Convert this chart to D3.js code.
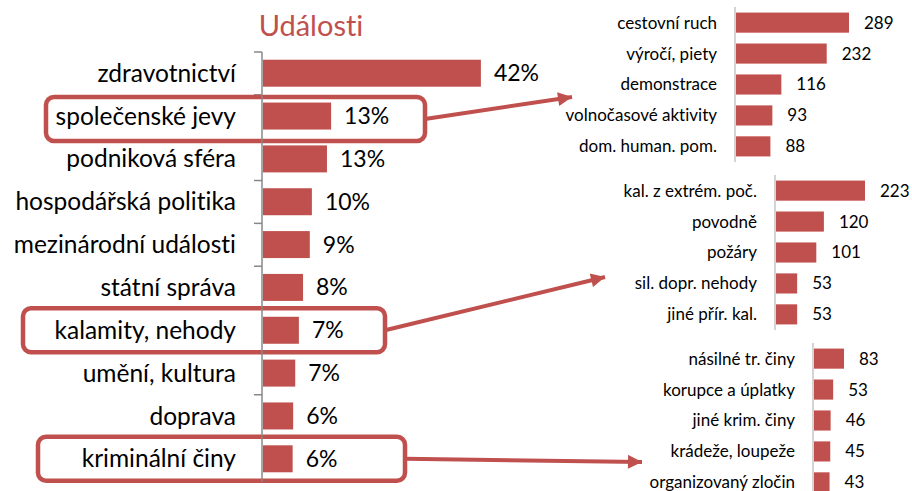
<!DOCTYPE html>
<html lang="cs">
<head>
<meta charset="UTF-8">
<title>Události</title>
<script src="https://cdn.jsdelivr.net/npm/d3@7"></script>
<style>
  body { margin: 0; background: #fff; }
  svg text { font-family: Lato, "Open Sans", sans-serif; fill: #000; font-variant-ligatures: none; }
</style>
</head>
<body>
<script>
// main chart data (share of events, %)
var mainCategories = ["zdravotnictví", "společenské jevy", "podniková sféra", "hospodářská politika",
  "mezinárodní události", "státní správa", "kalamity, nehody", "umění, kultura", "doprava", "kriminální činy"];
var mainValues = [41.9, 13.1, 12.3, 9.4, 9.0, 7.7, 6.9, 6.2, 5.8, 5.7];
var mainLabels = ["42%", "13%", "13%", "10%", "9%", "8%", "7%", "7%", "6%", "6%"];

// breakdowns (counts)
var socialCategories = ["cestovní ruch", "výročí, piety", "demonstrace", "volnočasové aktivity", "dom. human. pom."];
var socialValues = [289, 232, 116, 93, 88];

var calamityCategories = ["kal. z extrém. poč.", "povodně", "požáry", "sil. dopr. nehody", "jiné přír. kal."];
var calamityValues = [223, 120, 101, 53, 53];

var crimeCategories = ["násilné tr. činy", "korupce a úplatky", "jiné krim. činy", "krádeže, loupeže", "organizovaný zločin"];
var crimeValues = [83, 53, 46, 45, 43];

var red = "#c0504d";
var W = 912, H = 491;

var svg = d3.select("body").append("svg")
  .attr("width", W).attr("height", H);

// ---- main chart ----
var axisX = 262;
var y = d3.scaleBand().domain(mainCategories).range([52, 480]).paddingInner(0.37).paddingOuter(0.18);
var x = d3.scaleLinear().domain([0, 45]).range([axisX, axisX + 234]);

svg.append("text")
  .attr("x", 311).attr("y", 36)
  .attr("text-anchor", "middle")
  .style("font-size", "29px")
  .style("fill", red)
  .text("Události");

// category tick marks
var step = y.step();
svg.append("g").selectAll("line")
  .data(d3.range(mainCategories.length + 1))
  .join("line")
  .attr("x1", axisX - 8).attr("x2", axisX)
  .attr("y1", function(i) { return 52 + i * step; })
  .attr("y2", function(i) { return 52 + i * step; })
  .attr("stroke", "#888").attr("stroke-width", 1.5);

// highlight boxes (drawn over ticks, under axis and bars)
var highlights = [
  { cat: "společenské jevy", x0: 46, x1: 425, dy: 3, target: [572, 97] },
  { cat: "kalamity, nehody", x0: 23, x1: 385, dy: 0, target: [605, 277] },
  { cat: "kriminální činy", x0: 38, x1: 405, dy: 0, target: [642, 462] }
];
var boxH = 44;
svg.append("g").selectAll("rect")
  .data(highlights)
  .join("rect")
  .attr("x", function(d) { return d.x0; })
  .attr("y", function(d) { return y(d.cat) + y.bandwidth() / 2 + d.dy - boxH / 2; })
  .attr("width", function(d) { return d.x1 - d.x0; })
  .attr("height", boxH)
  .attr("rx", 8).attr("ry", 8)
  .attr("fill", "#fff")
  .attr("stroke", red).attr("stroke-width", 4.5);

// axis line
svg.append("line")
  .attr("x1", axisX).attr("x2", axisX)
  .attr("y1", 52).attr("y2", 482)
  .attr("stroke", "#888").attr("stroke-width", 1.5);

svg.append("g").selectAll("rect")
  .data(mainValues)
  .join("rect")
  .attr("x", x(0) + 1)
  .attr("y", function(d, i) { return y(mainCategories[i]); })
  .attr("width", function(d) { return x(d) - x(0); })
  .attr("height", y.bandwidth())
  .attr("fill", red);

svg.append("g").selectAll("text")
  .data(mainCategories)
  .join("text")
  .attr("x", axisX - 26)
  .attr("y", function(d) { return y(d) + y.bandwidth() / 2; })
  .attr("dy", "0.35em")
  .attr("text-anchor", "end")
  .style("font-size", "24.5px")
  .text(function(d) { return d; });

svg.append("g").selectAll("text")
  .data(mainValues)
  .join("text")
  .attr("x", function(d) { return x(d) + 14; })
  .attr("y", function(d, i) { return y(mainCategories[i]) + y.bandwidth() / 2; })
  .attr("dy", "0.35em")
  .style("font-size", "23px")
  .text(function(d, i) { return mainLabels[i]; });

// arrows
var defs = svg.append("defs");
defs.append("marker")
  .attr("id", "head")
  .attr("viewBox", "0 0 10 10")
  .attr("refX", 10).attr("refY", 5)
  .attr("markerUnits", "userSpaceOnUse")
  .attr("markerWidth", 16).attr("markerHeight", 14)
  .attr("orient", "auto")
  .append("path")
  .attr("d", "M0,0 L10,5 L0,10 Z")
  .attr("fill", red);

svg.append("g").selectAll("line")
  .data(highlights)
  .join("line")
  .attr("x1", function(d) { return d.x1; })
  .attr("y1", function(d) { return y(d.cat) + y.bandwidth() / 2 + d.dy; })
  .attr("x2", function(d) { return d.target[0]; })
  .attr("y2", function(d) { return d.target[1]; })
  .attr("stroke", red).attr("stroke-width", 4)
  .attr("marker-end", "url(#head)");

// ---- small breakdown charts ----
function smallChart(cats, vals, ax, top, barMax) {
  var g = svg.append("g");
  var sy = d3.scaleBand().domain(cats).range([top, top + 155]).paddingInner(0.35).paddingOuter(0.18);
  var sx = d3.scaleLinear().domain([0, d3.max(vals)]).range([ax, ax + barMax]);

  g.append("line")
    .attr("x1", ax).attr("x2", ax)
    .attr("y1", top).attr("y2", top + 155)
    .attr("stroke", "#d4d4d4").attr("stroke-width", 2);

  g.selectAll("rect")
    .data(vals)
    .join("rect")
    .attr("x", ax + 1)
    .attr("y", function(d, i) { return sy(cats[i]); })
    .attr("width", function(d) { return sx(d) - ax; })
    .attr("height", sy.bandwidth())
    .attr("fill", red);

  g.selectAll("text.cat")
    .data(cats)
    .join("text")
    .attr("class", "cat")
    .attr("x", ax - 18)
    .attr("y", function(d) { return sy(d) + sy.bandwidth() / 2; })
    .attr("dy", "0.35em")
    .attr("text-anchor", "end")
    .style("font-size", "17px")
    .text(function(d) { return d; });

  g.selectAll("text.val")
    .data(vals)
    .join("text")
    .attr("class", "val")
    .attr("x", function(d) { return sx(d) + 16; })
    .attr("y", function(d, i) { return sy(cats[i]) + sy.bandwidth() / 2; })
    .attr("dy", "0.35em")
    .style("font-size", "17px")
    .text(function(d) { return d; });
}

smallChart(socialCategories, socialValues, 735, 7, 113);
smallChart(calamityCategories, calamityValues, 775, 175, 89);
smallChart(crimeCategories, crimeValues, 813, 343, 30);
</script>
</body>
</html>
